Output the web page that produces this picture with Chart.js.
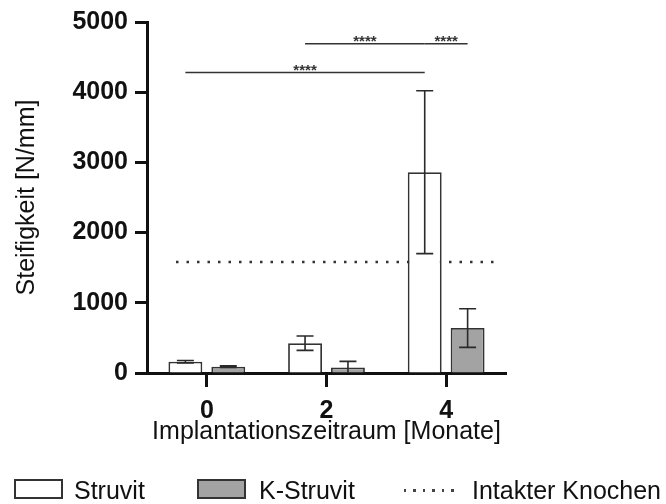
<!DOCTYPE html>
<html lang="de">
<head>
    <meta charset="UTF-8">
    <title>Steifigkeit</title>
    <script src="https://cdn.jsdelivr.net/npm/chart.js"></script>
    <style>
        body {
            margin: 0;
            padding: 0;
            background: #fff;
            font-family: 'Liberation Sans', Arial, sans-serif;
        }
        .wrap {
            position: relative;
            width: 666px;
            height: 504px;
        }
        .legend span {
            position: absolute;
            font-size: 25px;
            line-height: 25px;
            top: 478px;
            color: #111;
            white-space: nowrap;
        }
        .legend .box {
            position: absolute;
            top: 479px;
            width: 45px;
            height: 16px;
            border: 2px solid #333;
        }
        .legend .dots {
            position: absolute;
            top: 489px;
            left: 404px;
            width: 54px;
            height: 2.5px;
            background: repeating-linear-gradient(to right, #444 0 2.5px, transparent 2.5px 9.5px);
        }
    </style>
</head>
<body>
<div class="wrap">
    <canvas id="chart" width="666" height="504"></canvas>
    <div class="legend">
        <div class="box" style="left:14px; background:#fff;"></div>
        <span style="left:74px;">Struvit</span>
        <div class="box" style="left:197px; background:#a3a3a3;"></div>
        <span style="left:259px;">K-Struvit</span>
        <div class="dots"></div>
        <span style="left:472px;">Intakter Knochen</span>
    </div>
</div>

<script>
    // Daten
    const monate = ['0', '2', '4'];
    const struvit = [160, 425, 2860];
    const struvitSd = [18, 103, 1160];
    const kStruvit = [90, 80, 640];
    const kStruvitSd = [12, 85, 275];
    const intakterKnochen = 1580;

    // Signifikanzbalken: [dataset, index] von / bis, Höhe in N/mm
    const sigVon = [[0, 1], [0, 2], [0, 0]];
    const sigBis = [[0, 2], [1, 2], [0, 2]];
    const sigHoehe = [4690, 4690, 4280];
    const sigText = ['****', '****', '****'];

    const fehler = [struvitSd, kStruvitSd];
    const schrift = "'Liberation Sans', Arial, sans-serif";

    // Referenzlinie hinter den Balken
    const knochenPlugin = {
        id: 'knochen',
        beforeDatasetsDraw(chart) {
            const { ctx, chartArea, scales } = chart;
            const y = scales.y.getPixelForValue(intakterKnochen);
            ctx.save();
            ctx.strokeStyle = '#333';
            ctx.lineWidth = 2.5;
            ctx.setLineDash([2.5, 8]);
            ctx.beginPath();
            ctx.moveTo(chartArea.left + 29, y);
            ctx.lineTo(chartArea.right - 5, y);
            ctx.stroke();
            ctx.restore();
        }
    };

    // Fehlerbalken und Signifikanzen
    const extrasPlugin = {
        id: 'extras',
        afterDatasetsDraw(chart) {
            const { ctx, scales } = chart;
            const y = scales.y;
            ctx.save();
            ctx.strokeStyle = '#2a2a2a';
            ctx.lineWidth = 1.6;
            chart.data.datasets.forEach((ds, d) => {
                const meta = chart.getDatasetMeta(d);
                meta.data.forEach((bar, i) => {
                    const v = ds.data[i];
                    const sd = fehler[d][i];
                    const yTop = y.getPixelForValue(v + sd);
                    const yBot = y.getPixelForValue(Math.max(v - sd, 0));
                    const cap = 8.5;
                    ctx.beginPath();
                    ctx.moveTo(bar.x, yTop);
                    ctx.lineTo(bar.x, yBot);
                    ctx.moveTo(bar.x - cap, yTop);
                    ctx.lineTo(bar.x + cap, yTop);
                    if (v - sd > 0) {
                        ctx.moveTo(bar.x - cap, yBot);
                        ctx.lineTo(bar.x + cap, yBot);
                    }
                    ctx.stroke();
                });
            });

            ctx.strokeStyle = '#333';
            ctx.fillStyle = '#333';
            ctx.lineWidth = 1.6;
            ctx.font = 'bold 15px ' + schrift;
            ctx.textAlign = 'center';
            ctx.textBaseline = 'alphabetic';
            sigHoehe.forEach((h, k) => {
                const a = chart.getDatasetMeta(sigVon[k][0]).data[sigVon[k][1]];
                const b = chart.getDatasetMeta(sigBis[k][0]).data[sigBis[k][1]];
                const py = y.getPixelForValue(h);
                ctx.beginPath();
                ctx.moveTo(a.x, py);
                ctx.lineTo(b.x, py);
                ctx.stroke();
                ctx.fillText(sigText[k], (a.x + b.x) / 2, py + 2);
            });
            ctx.restore();
        }
    };

    new Chart(document.getElementById('chart').getContext('2d'), {
        type: 'bar',
        data: {
            labels: monate,
            datasets: [{
                label: 'Struvit',
                data: struvit,
                backgroundColor: '#ffffff',
                borderColor: '#333',
                borderWidth: 1.8,
                categoryPercentage: 0.717,
                barPercentage: 0.79
            }, {
                label: 'K-Struvit',
                data: kStruvit,
                backgroundColor: '#a3a3a3',
                borderColor: '#333',
                borderWidth: 1.8,
                categoryPercentage: 0.717,
                barPercentage: 0.79
            }]
        },
        options: {
            responsive: false,
            animation: false,
            layout: { padding: { top: 22, right: 160, bottom: 44, left: 0 } },
            plugins: {
                legend: { display: false },
                tooltip: { enabled: false }
            },
            scales: {
                x: {
                    afterFit(scale) { scale.height = 87; },
                    grid: {
                        offset: false,
                        drawOnChartArea: false,
                        drawTicks: true,
                        tickLength: 14,
                        tickWidth: 3,
                        tickColor: '#111'
                    },
                    border: { color: '#111', width: 3 },
                    ticks: {
                        color: '#111',
                        padding: 9,
                        font: { family: schrift, size: 25, weight: 'bold' }
                    },
                    title: {
                        display: true,
                        text: 'Implantationszeitraum [Monate]',
                        color: '#111',
                        padding: { top: 0, bottom: 13 },
                        font: { family: schrift, size: 25 }
                    }
                },
                y: {
                    min: 0,
                    max: 5000,
                    afterFit(scale) { scale.width = 147; },
                    grid: {
                        drawOnChartArea: false,
                        drawTicks: true,
                        tickLength: 12,
                        tickWidth: 3,
                        tickColor: '#111'
                    },
                    border: { color: '#111', width: 3 },
                    ticks: {
                        stepSize: 1000,
                        color: '#111',
                        padding: 7,
                        callback: (v) => String(v),
                        font: { family: schrift, size: 25, weight: 'bold' }
                    },
                    title: {
                        display: true,
                        text: 'Steifigkeit [N/mm]',
                        color: '#111',
                        padding: { top: 12, bottom: 0 },
                        font: { family: schrift, size: 25 }
                    }
                }
            }
        },
        plugins: [knochenPlugin, extrasPlugin]
    });
</script>
</body>
</html>
